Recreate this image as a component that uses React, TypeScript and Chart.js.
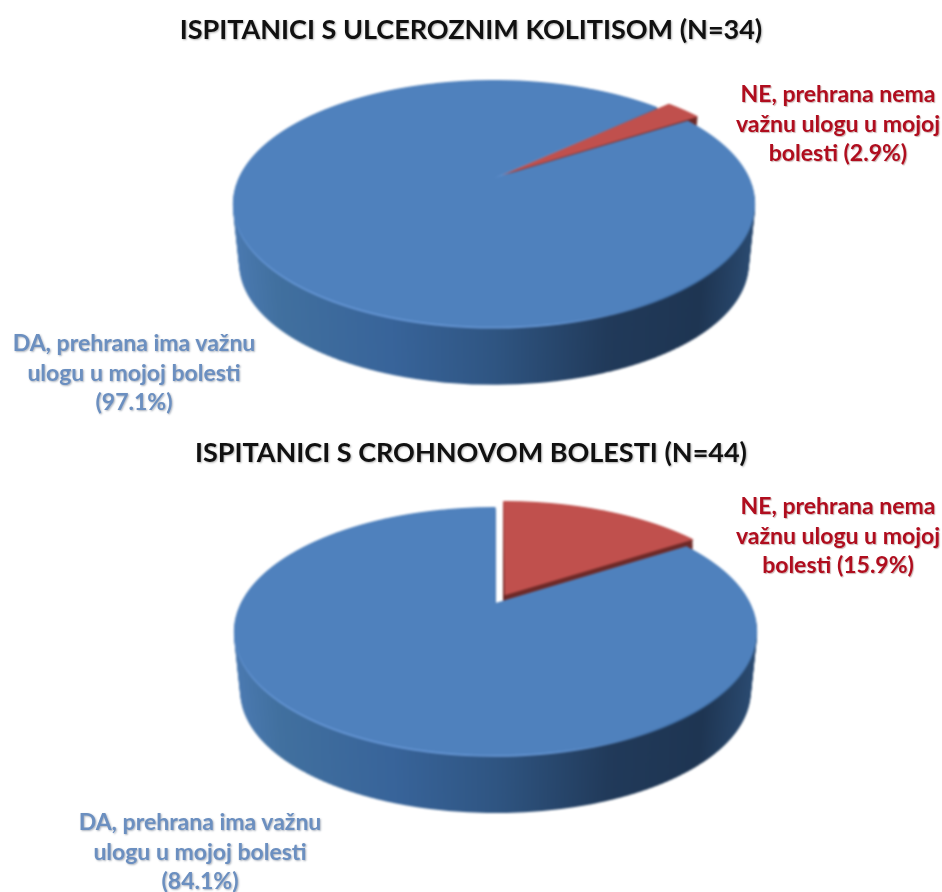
import React, { useEffect, useRef } from "react";
import { Chart, registerables } from "chart.js";

Chart.register(...registerables);

const categories = ["NE, prehrana nema važnu ulogu u mojoj bolesti", "DA, prehrana ima važnu ulogu u mojoj bolesti"];
const ucValues = [2.9, 97.1];
const cdValues = [15.9, 84.1];
const sliceColors = ["#c0504d", "#4f81bd"];
const ucTitle = "ISPITANICI S ULCEROZNIM KOLITISOM (N=34)";
const cdTitle = "ISPITANICI S CROHNOVOM BOLESTI (N=44)";
const ucNeLabel = ["NE, prehrana nema", "važnu ulogu u mojoj", "bolesti (2.9%)"];
const ucDaLabel = ["DA, prehrana ima važnu", "ulogu u mojoj bolesti", "(97.1%)"];
const cdNeLabel = ["NE, prehrana nema", "važnu ulogu u mojoj", "bolesti (15.9%)"];
const cdDaLabel = ["DA, prehrana ima važnu", "ulogu u mojoj bolesti", "(84.1%)"];

type View = { ox: number; oy: number; a: number; b: number; k: number; depth: number; shrink: number };

const WALL_STOPS: [number, string][] = [
  [0, "#4a79b0"],
  [0.08, "#41709f"],
  [0.3, "#38649a"],
  [0.5, "#2f5582"],
  [0.72, "#213a5a"],
  [0.9, "#1e3552"],
  [1, "#2a4a70"],
];

function projected(ctx: any, el: any, view: View, t: number, step: number, paint: (ctx: any, toSource: (x: number) => number, a: number) => any) {
  const sc = 1 - view.shrink * t;
  const A = view.a * sc;
  const B = view.b * sc;
  const ox = view.ox;
  const oy = view.oy + t * view.depth;
  const R = el.outerRadius;
  const k = view.k;
  const vs = [-1.08, 1.04];
  const top = Math.floor(oy + (B * vs[0]) / (1 - k * vs[0]));
  const bottom = Math.ceil(oy + (B * vs[1]) / (1 - k * vs[1]));
  const base = el.options;
  for (let yy = top; yy < bottom; yy += step) {
    const s0 = (yy - oy) / B;
    const s1 = (yy + step - oy) / B;
    const v0 = s0 / (1 + k * s0);
    const v1 = s1 / (1 + k * s1);
    const w = 1 - (k * (v0 + v1)) / 2;
    const scaleX = A / (R * w);
    const scaleY = step / ((v1 - v0) * R);
    const y0 = el.y + v0 * R;
    ctx.save();
    ctx.beginPath();
    ctx.rect(0, yy, ctx.canvas.width, step);
    ctx.clip();
    ctx.transform(scaleX, 0, 0, scaleY, ox - scaleX * el.x, yy - scaleY * y0);
    el.options = { ...base, backgroundColor: paint(ctx, (x) => el.x + (x - ox) / scaleX, A) };
    el.draw(ctx);
    ctx.restore();
  }
  el.options = base;
}

function perspectivePlugin(view: View) {
  return {
    id: "perspective",
    beforeDatasetsDraw(chart: any) {
      const ctx = chart.ctx;
      const [red, blue] = chart.getDatasetMeta(0).data;
      const wall = (c: any, toSource: (x: number) => number, a: number) => {
        const half = a * 1.02;
        const g = c.createLinearGradient(toSource(view.ox - half), 0, toSource(view.ox + half), 0);
        WALL_STOPS.forEach(([p, col]) => g.addColorStop(p, col));
        return g;
      };
      const bevel = (c: any, toSource: (x: number) => number, a: number) => {
        const half = a * 1.02;
        const g = c.createLinearGradient(toSource(view.ox - half), 0, toSource(view.ox + half), 0);
        g.addColorStop(0, "#6a9bdc");
        g.addColorStop(0.6, "#6595d2");
        g.addColorStop(0.85, "#3f6ea6");
        g.addColorStop(1, "#3a6698");
        return g;
      };
      const layers = Math.round(view.depth);
      for (let i = layers; i >= 1; i--) projected(ctx, blue, view, i / layers, 2, wall);
      for (let i = layers; i >= 1; i--) projected(ctx, red, view, i / layers, 2, () => "#6e2a28");
      projected(ctx, blue, view, 0.03, 1, bevel);
      projected(ctx, blue, view, 0, 1, () => sliceColors[1]);
      projected(ctx, red, view, 0, 1, () => sliceColors[0]);
      return false;
    },
  };
}

function Pie3D({ values, rotation, offset, view, top }: { values: number[]; rotation: number; offset: number; view: View; top: number }) {
  const ref = useRef<HTMLCanvasElement>(null);
  useEffect(() => {
    const chart = new Chart(ref.current as HTMLCanvasElement, {
      type: "pie",
      data: {
        labels: categories,
        datasets: [{ data: values, backgroundColor: sliceColors, borderWidth: 0, offset: [offset, 0] }],
      },
      options: {
        responsive: false,
        animation: false,
        rotation,
        radius: 200,
        layout: { padding: 0 },
        plugins: { legend: { display: false }, tooltip: { enabled: false } },
      },
      plugins: [perspectivePlugin(view)],
    } as any);
    return () => chart.destroy();
  }, []);
  return <canvas ref={ref} width={942} height={446} style={{ position: "absolute", left: 0, top, width: 942, height: 446, filter: "blur(0.8px)" }} />;
}

function TextBlock({ lines, cx, y, color, size, shadow }: { lines: string[]; cx: number; y: number; color: string; size: number; shadow: string }) {
  return (
    <div
      style={{
        position: "absolute",
        left: cx - 300,
        width: 600,
        top: y - 15,
        textAlign: "center",
        font: `700 ${size}px/29.6px Lato, sans-serif`,
        color,
        textShadow: shadow,
        whiteSpace: "pre",
        filter: "blur(0.4px)",
      }}
    >
      {lines.map((l) => (
        <div key={l}>{l}</div>
      ))}
    </div>
  );
}

export default function App() {
  const redShadow = "1px 1px 1px rgba(90,0,0,0.3)";
  const blueShadow = "1px 1px 2px rgba(40,60,90,0.4)";
  const titleShadow = "1px 1px 2px rgba(0,0,0,0.3)";
  return (
    <div style={{ position: "absolute", left: 0, top: 0, width: 942, height: 892, overflow: "hidden", background: "#fff" }}>
      <Pie3D values={ucValues} rotation={47} offset={30} top={0} view={{ ox: 494, oy: 178, a: 255.4, b: 118.2, k: 0.206, depth: 61.7, shrink: 0.025 }} />
      <Pie3D values={cdValues} rotation={0} offset={60} top={446} view={{ ox: 495.5, oy: 157, a: 254.7, b: 117.7, k: 0.226, depth: 61.8, shrink: 0.025 }} />
      <TextBlock lines={[ucTitle]} cx={471} y={29} color="#111" size={27} shadow={titleShadow} />
      <TextBlock lines={[cdTitle]} cx={471} y={452} color="#111" size={27} shadow={titleShadow} />
      <TextBlock lines={ucNeLabel} cx={838} y={94} color="#b00d1e" size={23} shadow={redShadow} />
      <TextBlock lines={cdNeLabel} cx={838} y={506} color="#b00d1e" size={23} shadow={redShadow} />
      <TextBlock lines={ucDaLabel} cx={134} y={343} color="#6b8fc0" size={23} shadow={blueShadow} />
      <TextBlock lines={cdDaLabel} cx={200} y={822} color="#6b8fc0" size={23} shadow={blueShadow} />
    </div>
  );
}
